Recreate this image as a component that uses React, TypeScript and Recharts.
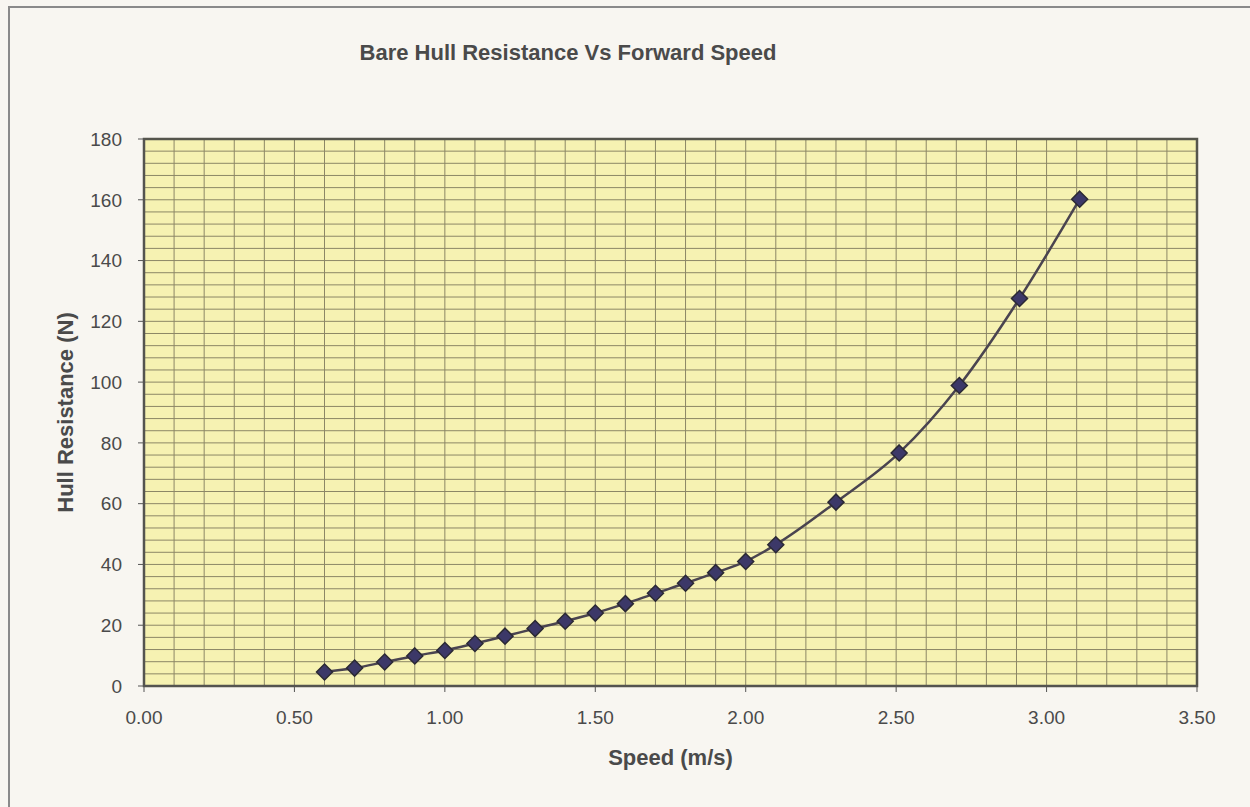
import { LineChart, Line, XAxis, YAxis, CartesianGrid, ReferenceArea } from 'recharts';

// speed (m/s) and bare hull resistance (N)
const speed = [0.6, 0.7, 0.8, 0.9, 1.0, 1.1, 1.2, 1.3, 1.4, 1.5, 1.6, 1.7, 1.8, 1.9, 2.0, 2.1, 2.3, 2.51, 2.71, 2.91, 3.11];
const resistance = [4.6, 5.9, 7.9, 9.9, 11.7, 14.0, 16.4, 18.9, 21.3, 24.0, 27.1, 30.5, 33.8, 37.3, 41.0, 46.5, 60.5, 76.7, 98.9, 127.5, 160.2];

const xTicks = [0, 0.5, 1.0, 1.5, 2.0, 2.5, 3.0, 3.5];
const yTicks = [0, 20, 40, 60, 80, 100, 120, 140, 160, 180];

// minor grid steps (0.1 m/s, 4 N)
const gridX = [0, 0.1, 0.2, 0.3, 0.4, 0.5, 0.6, 0.7, 0.8, 0.9, 1.0, 1.1, 1.2, 1.3, 1.4, 1.5, 1.6, 1.7, 1.8, 1.9, 2.0, 2.1, 2.2, 2.3, 2.4, 2.5, 2.6, 2.7, 2.8, 2.9, 3.0, 3.1, 3.2, 3.3, 3.4, 3.5];
const gridY = [0, 4, 8, 12, 16, 20, 24, 28, 32, 36, 40, 44, 48, 52, 56, 60, 64, 68, 72, 76, 80, 84, 88, 92, 96, 100, 104, 108, 112, 116, 120, 124, 128, 132, 136, 140, 144, 148, 152, 156, 160, 164, 168, 172, 176, 180];

const data = speed.map((s, i) => ({ speed: s, r: resistance[i] }));

const FONT = '"Liberation Sans", Arial, sans-serif';
const TEXT = '#4a4a4a';

const Diamond = (props: any) => {
    const { cx, cy } = props;
    if (cx == null || cy == null) return null;
    const s = 8;
    return (
        <polygon
            points={`${cx},${cy - s} ${cx + s},${cy} ${cx},${cy + s} ${cx - s},${cy}`}
            fill="#3c3868"
            stroke="#2b2934"
            strokeWidth={1.5}
        />
    );
};

export default function App() {
    return (
        <div style={{ position: 'absolute', left: 0, top: 0, width: 1250, height: 807, background: '#f8f6f1', fontFamily: FONT, overflow: 'hidden' }}>
            <div style={{ position: 'absolute', left: 8, top: 6, width: 1260, height: 820, borderTop: '2px solid #8a8a8a', borderLeft: '2px solid #8a8a8a' }} />
            <div style={{ position: 'absolute', left: 268, width: 600, top: 40, textAlign: 'center', fontSize: 22, fontWeight: 'bold', color: TEXT }}>
                Bare Hull Resistance Vs Forward Speed
            </div>
            <div style={{ position: 'absolute', left: 0, top: 0 }}>
                <LineChart width={1250} height={807} data={data} margin={{ top: 139, right: 53, bottom: 31, left: 40 }}>
                    <XAxis xAxisId="grid" type="number" dataKey="speed" domain={[0, 3.5]} ticks={gridX} interval={0} allowDataOverflow hide />
                    <YAxis yAxisId="grid" type="number" dataKey="r" domain={[0, 180]} ticks={gridY} interval={0} allowDataOverflow hide />
                    <CartesianGrid xAxisId="grid" yAxisId="grid" fill="#f6f2b2" fillOpacity={1} stroke="#8c8766" strokeWidth={1} />
                    <XAxis
                        type="number"
                        dataKey="speed"
                        domain={[0, 3.5]}
                        ticks={xTicks}
                        interval={0}
                        tickFormatter={(v: number) => v.toFixed(2)}
                        height={90}
                        tickSize={6}
                        tickMargin={19}
                        stroke="#555"
                        tick={{ fill: TEXT, fontSize: 19, fontFamily: FONT }}
                        label={{ value: 'Speed (m/s)', position: 'insideBottom', offset: 11, fill: TEXT, fontSize: 22, fontWeight: 'bold', fontFamily: FONT }}
                    />
                    <YAxis
                        type="number"
                        domain={[0, 180]}
                        ticks={yTicks}
                        interval={0}
                        width={104}
                        tickSize={6}
                        tickMargin={16}
                        stroke="#555"
                        tick={{ fill: TEXT, fontSize: 19, fontFamily: FONT }}
                        label={{ value: 'Hull Resistance (N)', angle: -90, position: 'insideLeft', offset: 25, fill: TEXT, fontSize: 22, fontWeight: 'bold', fontFamily: FONT, style: { textAnchor: 'middle' } }}
                    />
                    <ReferenceArea x1={0} x2={3.5} y1={0} y2={180} fill="none" fillOpacity={0} stroke="#55554c" strokeWidth={2.5} ifOverflow="visible" />
                    <Line
                        type="monotone"
                        dataKey="r"
                        stroke="#4a4450"
                        strokeWidth={2.5}
                        dot={<Diamond />}
                        activeDot={false}
                        isAnimationActive={false}
                    />
                </LineChart>
            </div>
        </div>
    );
}
